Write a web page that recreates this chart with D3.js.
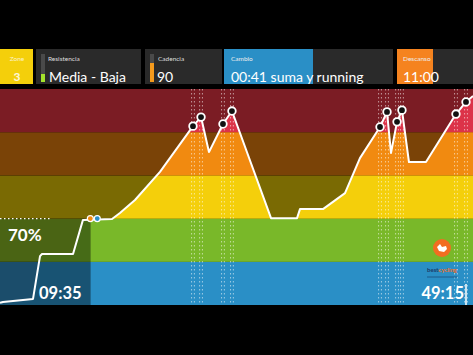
<!DOCTYPE html>
<html>
<head>
<meta charset="utf-8">
<script src="https://cdn.jsdelivr.net/npm/d3@7/dist/d3.min.js"></script>
<style>
  html, body { margin: 0; padding: 0; background: #000; }
  svg { display: block; font-family: Lato, "Open Sans", sans-serif; }
</style>
</head>
<body>
<div id="vis"></div>
<script>
// ---- data ----
// zone bands, bottom to top
var zones = [1, 2, 3, 4, 5];
var zoneDark = ['#1b4d6b', '#4a6414', '#7a6a03', '#7a4307', '#7b1c24'];
var zoneBright = ['#2a8fc6', '#79b829', '#f4cf0b', '#f18a10', '#dc3349'];

// intensity profile: minute of class and zone level (0..5)
var profileMin = [0, 0.32, 3.49, 4.23, 4.44, 7.72, 8.77, 11.84, 12.68, 14.27, 16.91, 20.40, 21.25, 22.09,
  23.57, 24.52, 28.65, 31.40, 31.71, 34.14, 36.47, 38.05, 40.17, 40.91, 41.33, 41.97, 42.49, 43.23,
  45.03, 48.20, 49.26, 50];
var profileZone = [0.05, 0.07, 0.14, 1.13, 1.18, 1.18, 1.97, 1.99, 2.13, 2.43, 3.08, 4.14, 4.35, 3.54,
  4.19, 4.49, 2.01, 2.01, 2.22, 2.22, 2.59, 3.40, 4.12, 4.47, 3.52, 4.24, 4.51, 3.31,
  3.31, 4.42, 4.70, 4.84];

// peak markers (minute, zone)
var peakMin = [20.40, 21.25, 23.57, 24.52, 40.17, 40.91, 41.97, 42.49, 48.20, 49.26];
var peakZone = [4.14, 4.35, 4.19, 4.49, 4.12, 4.47, 4.24, 4.51, 4.42, 4.70];

// current position markers
var nowMin = [9.55, 10.28];
var nowColor = ['#f18a10', '#2a8fc6'];
var elapsed = 9.58;

// header panels
var panelLabels = ['Zone', 'Resistencia', 'Cadencia', 'Cambio', 'Descanso'];
var panelValues = ['3', 'Media - Baja', '90', '00:41 suma y running', '11:00'];

var width = 473, height = 355;
var margin = { top: 89, bottom: 50 };

var svg = d3.select('#vis').append('svg')
  .attr('width', width)
  .attr('height', height);

svg.append('rect').attr('width', width).attr('height', height).attr('fill', '#000');

var x = d3.scaleLinear().domain([0, 50]).range([0, width]);
var y = d3.scaleLinear().domain([0, 5]).range([height - margin.bottom, margin.top]);

var points = profileMin.map(function(m, i) { return [m, profileZone[i]]; });

// ---- header ----
var head = svg.append('g');
var panelTop = 49, panelH = 35;

// zone
head.append('rect').attr('x', 0).attr('y', panelTop).attr('width', 33).attr('height', panelH).attr('fill', '#f4cf0b');
head.append('text').attr('x', 17).attr('y', 61).attr('text-anchor', 'middle')
  .attr('font-size', 6.5).attr('fill', '#fff').attr('opacity', 0.75).text(panelLabels[0]);
head.append('text').attr('x', 17).attr('y', 81).attr('text-anchor', 'middle')
  .attr('font-size', 12).attr('font-weight', 'bold').attr('fill', '#fff').attr('opacity', 0.85).text(panelValues[0]);

// resistencia
head.append('rect').attr('x', 36).attr('y', panelTop).attr('width', 105).attr('height', panelH).attr('fill', '#2a2a2a');
head.append('rect').attr('x', 41).attr('y', 54).attr('width', 4).attr('height', 28).attr('fill', '#4a4a4a');
head.append('rect').attr('x', 41).attr('y', 74).attr('width', 4).attr('height', 8).attr('fill', '#a3e22c');
head.append('text').attr('x', 48).attr('y', 61).attr('font-size', 6.5).attr('fill', '#ddd').text(panelLabels[1]);
head.append('text').attr('x', 49).attr('y', 82).attr('font-size', 14).attr('fill', '#fff').text(panelValues[1]);

// cadencia
head.append('rect').attr('x', 145).attr('y', panelTop).attr('width', 77).attr('height', panelH).attr('fill', '#2a2a2a');
head.append('rect').attr('x', 150).attr('y', 54).attr('width', 4).attr('height', 28).attr('fill', '#4a4a4a');
head.append('rect').attr('x', 150).attr('y', 63).attr('width', 4).attr('height', 19).attr('fill', '#f39a1d');
head.append('text').attr('x', 158).attr('y', 61).attr('font-size', 6.5).attr('fill', '#ddd').text(panelLabels[2]);
head.append('text').attr('x', 157).attr('y', 82).attr('font-size', 14).attr('fill', '#fff').text(panelValues[2]);

// cambio
head.append('rect').attr('x', 224).attr('y', panelTop).attr('width', 169).attr('height', panelH).attr('fill', '#2a2a2a');
head.append('rect').attr('x', 224).attr('y', panelTop).attr('width', 89).attr('height', panelH).attr('fill', '#2a8fc6');
head.append('text').attr('x', 231).attr('y', 61).attr('font-size', 6.5).attr('fill', '#eee').text(panelLabels[3]);
head.append('text').attr('x', 231).attr('y', 82).attr('font-size', 14).attr('fill', '#fff').text(panelValues[3]);

// descanso
head.append('rect').attr('x', 397).attr('y', panelTop).attr('width', 76).attr('height', panelH).attr('fill', '#2a2a2a');
head.append('rect').attr('x', 397).attr('y', panelTop).attr('width', 36).attr('height', panelH).attr('fill', '#f5831f');
head.append('text').attr('x', 403).attr('y', 61).attr('font-size', 6.5).attr('fill', '#eee').text(panelLabels[4]);
head.append('text').attr('x', 403).attr('y', 82).attr('font-size', 14).attr('fill', '#fff').text(panelValues[4]);

// ---- chart ----
var g = svg.append('g');

// dark bands (above the line)
g.selectAll('.band-dark').data(zones).enter().append('rect')
  .attr('class', 'band-dark')
  .attr('x', 0).attr('width', width)
  .attr('y', function(d) { return y(d); })
  .attr('height', function(d) { return y(d - 1) - y(d); })
  .attr('fill', function(d, i) { return zoneDark[i]; });

// clip to area under the profile
var area = d3.area()
  .x(function(d) { return x(d[0]); })
  .y0(y(0))
  .y1(function(d) { return y(d[1]); });

svg.append('defs').append('clipPath').attr('id', 'under')
  .append('path').attr('d', area(points));

var under = g.append('g').attr('clip-path', 'url(#under)');
under.selectAll('.band-bright').data(zones).enter().append('rect')
  .attr('class', 'band-bright')
  .attr('x', 0).attr('width', width)
  .attr('y', function(d) { return y(d); })
  .attr('height', function(d) { return y(d - 1) - y(d); })
  .attr('fill', function(d, i) { return zoneBright[i]; });

// the part already ridden is darker
under.append('rect')
  .attr('x', 0).attr('y', y(5))
  .attr('width', x(elapsed)).attr('height', y(0) - y(5))
  .attr('fill', '#000').attr('opacity', 0.42);

// dotted guides at the peaks
var guides = g.append('g').attr('stroke', '#fff').attr('stroke-opacity', 0.55)
  .attr('stroke-width', 1).attr('stroke-dasharray', '1.5,2.5');
peakMin.forEach(function(m) {
  [-1.4, 1.4].forEach(function(dx) {
    guides.append('line')
      .attr('x1', x(m) + dx).attr('x2', x(m) + dx)
      .attr('y1', y(5)).attr('y2', y(0));
  });
});

// 70% threshold
g.append('line')
  .attr('x1', 0).attr('x2', 52)
  .attr('y1', y(2)).attr('y2', y(2))
  .attr('stroke', '#fff').attr('stroke-width', 1.2).attr('stroke-dasharray', '1.5,2.5');

// profile line
var line = d3.line()
  .x(function(d) { return x(d[0]); })
  .y(function(d) { return y(d[1]); });

g.append('path')
  .attr('d', line(points))
  .attr('fill', 'none')
  .attr('stroke', '#fff')
  .attr('stroke-width', 2)
  .attr('stroke-linejoin', 'round');

// peak dots
g.selectAll('.peak').data(peakMin).enter().append('circle')
  .attr('class', 'peak')
  .attr('cx', function(d) { return x(d); })
  .attr('cy', function(d, i) { return y(peakZone[i]); })
  .attr('r', 3.8)
  .attr('fill', '#111')
  .attr('stroke', '#fff')
  .attr('stroke-width', 1.8);

// current position dots
g.selectAll('.now').data(nowMin).enter().append('circle')
  .attr('class', 'now')
  .attr('cx', function(d) { return x(d); })
  .attr('cy', y(2))
  .attr('r', 3)
  .attr('fill', function(d, i) { return nowColor[i]; })
  .attr('stroke', '#fff')
  .attr('stroke-width', 1.2);

// labels
g.append('text').attr('x', 8).attr('y', 241)
  .attr('font-size', 17).attr('font-weight', 'bold').attr('fill', '#fff').text('70%');
g.append('text').attr('x', 39).attr('y', 299)
  .attr('font-size', 16.5).attr('font-weight', 'bold').attr('fill', '#fff').text('09:35');
g.append('text').attr('x', 464).attr('y', 299).attr('text-anchor', 'end')
  .attr('font-size', 16.5).attr('font-weight', 'bold').attr('fill', '#fff').text('49:15');
g.append('line')
  .attr('x1', 466).attr('x2', 466).attr('y1', 284).attr('y2', y(0))
  .attr('stroke', '#fff').attr('stroke-width', 1.5);

// logo
var logo = g.append('g').attr('transform', 'translate(442,248)');
logo.append('circle').attr('r', 9).attr('fill', '#f26d21');
logo.append('path')
  .attr('d', 'M-5,-1 L-2,-4 L0,-1 L4,-2 L5,1 L2,4 L-3,3 Z')
  .attr('fill', '#fff');
g.append('text').attr('x', 442).attr('y', 272).attr('text-anchor', 'middle')
  .attr('font-size', 6).attr('font-weight', 'bold')
  .html('<tspan fill="#1d3a66">best</tspan><tspan fill="#f26d21">cycling</tspan>');
g.append('line').attr('x1', 427).attr('x2', 457).attr('y1', 277).attr('y2', 277)
  .attr('stroke', '#1d5a8a').attr('stroke-width', 1);
</script>
</body>
</html>
